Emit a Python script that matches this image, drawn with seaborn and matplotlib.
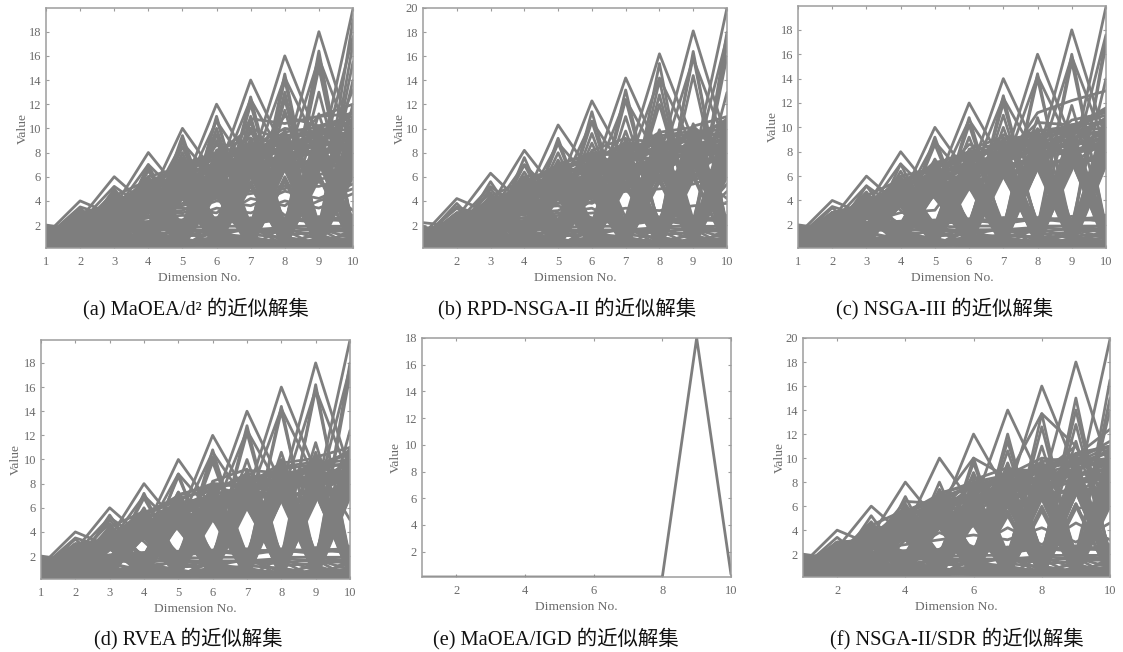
import matplotlib
matplotlib.use("Agg")
import matplotlib.pyplot as plt
import pandas as pd
import seaborn as sns

sns.set_style("white")
plt.rcParams['font.family'] = ['Liberation Serif', 'Noto Sans CJK SC']

DIMS = [1, 2, 3, 4, 5, 6, 7, 8, 9, 10]

BODY = [
 [1.9,0.3,2.6,0.4,5.0,0.5,6.2,0.4,7.2,0.5],
 [0.2,2.8,0.3,4.2,0.4,5.6,0.5,7.4,0.6,8.2],
 [1.2,0.6,3.4,0.7,5.8,0.8,7.0,0.9,8.2,0.3],
 [0.6,2.2,0.7,3.6,0.8,6.4,0.3,6.8,0.4,9.6],
 [1.6,0.9,4.0,1.0,6.4,0.3,8.0,0.3,9.2,0.8],
 [0.9,1.8,1.0,5.0,0.3,7.0,1.0,8.2,1.0,7.4],
 [0.3,0.4,2.9,0.3,4.6,1.0,6.6,1.2,7.8,1.2],
 [1.0,2.5,0.4,4.6,1.2,5.2,1.3,9.0,1.3,10.4],
 [0.8,1.0,3.8,1.2,5.4,1.3,7.6,1.5,8.8,1.5],
 [1.7,2.0,1.2,3.9,1.4,6.0,1.5,7.0,1.6,8.8],
 [0.4,0.7,2.7,1.4,6.8,1.6,8.6,1.7,9.8,1.8],
 [1.1,2.4,1.4,5.2,1.6,7.6,1.8,9.6,1.8,7.8],
 [0.5,1.7,2.6,3.6,4.6,5.2,6.2,6.8,7.4,7.2],
 [0.8,2.9,3.2,4.4,5.6,6.6,7.4,8.2,8.6,9.2],
 [1.0,2.2,3.2,4.8,5.0,6.2,6.8,7.6,8.0,8.4],
 [0.7,2.6,3.4,5.4,6.6,7.8,7.0,9.2,9.6,10.0],
 [1.3,1.9,3.0,3.8,6.0,5.6,8.2,7.2,10.2,7.6],
 [0.3,0.3,0.4,0.4,0.3,0.5,0.4,0.5,0.4,0.3],
 [1.5,0.5,0.6,0.9,0.6,0.4,0.7,0.3,0.7,0.6],
 [0.6,0.8,0.3,0.6,1.1,1.2,0.3,0.8,0.3,1.0],
 [1.0,0.3,1.0,0.3,0.4,0.8,0.9,0.6,1.2,0.4],
 [0.2,1.0,0.8,1.1,0.9,0.3,1.2,1.0,0.5,1.4],
 [0.4,0.5,3.1,4.0,0.6,0.7,6.4,7.8,0.8,0.9],
 [1.6,0.7,0.8,4.4,5.2,0.9,1.0,8.6,8.4,1.1],
 [0.9,2.1,2.8,0.8,1.0,5.8,7.2,1.2,1.4,9.0],
 [0.3,2.7,0.5,0.7,5.8,6.8,0.6,0.7,9.0,10.8],
 [1.2,0.9,3.5,5.0,0.5,0.6,7.8,9.4,0.5,0.7],
 [0.7,0.4,0.9,3.7,6.2,0.4,0.8,6.6,7.6,0.5],
 [1.8,1.2,4.4,0.5,0.7,7.2,8.8,0.4,0.6,8.0],
 [0.5,2.3,1.1,4.0,4.8,1.1,1.1,7.0,10.0,0.6],
 [1.3,0.6,3.3,1.3,0.9,6.5,6.0,1.4,9.4,1.3],
 [0.2,0.2,0.2,0.2,0.2,0.2,0.2,0.2,0.2,0.2],
 [0.8,1.4,1.6,1.5,1.7,1.5,1.6,1.8,1.6,1.7],
 [0.4,1.8,0.5,3.6,4.3,0.3,6.0,6.6,0.3,7.0],
 [1.1,0.3,2.6,3.9,0.3,5.0,6.4,0.3,7.0,7.5],
 [1.7,2.0,2.9,0.3,4.7,5.4,0.3,7.0,7.4,0.3],
 [0.6,2.2,0.6,4.2,5.1,0.4,6.8,7.4,0.4,8.0],
 [1.3,0.5,3.2,4.5,0.4,5.8,7.2,0.4,7.8,8.5],
 [0.3,2.4,3.0,0.5,5.5,6.2,0.4,7.8,8.2,0.4],
 [0.9,2.6,0.8,4.8,5.9,0.5,7.6,8.2,0.5,9.0],
 [0.8,0.7,3.8,5.1,0.5,6.6,8.0,0.5,8.6,9.5],
 [0.5,2.8,3.2,0.7,6.3,7.0,0.5,8.6,9.0,0.5],
 [0.5,3.0,1.0,5.4,6.7,0.6,8.4,9.0,0.6,10.0],
 [1.0,0.9,4.4,5.7,0.6,7.4,8.8,0.6,9.4,10.5],
 [1.4,1.9,4.7,0.9,7.1,7.8,0.6,9.4,9.8,0.6],
 [0.2,2.1,1.2,6.0,0.7,8.2,9.2,0.7,10.2,11.0],
 [1.4,0.4,2.8,1.1,4.5,0.7,6.2,0.7,7.2,0.7],
 [0.7,0.6,1.1,3.7,0.8,5.2,0.7,6.8,0.7,7.2],
 [1.6,1.3,3.0,1.3,5.3,0.8,6.6,0.8,7.6,0.8],
 [0.9,2.3,1.3,4.0,0.9,5.6,0.8,7.2,0.8,7.8],
 [0.4,1.1,3.4,1.5,5.7,0.9,7.0,0.9,8.0,0.9],
 [1.2,2.5,1.5,4.3,1.0,6.0,0.9,7.6,0.9,8.3],
 [1.9,0.8,3.6,1.6,6.1,1.0,7.4,1.0,8.4,1.0],
 [0.6,2.7,1.6,4.6,1.1,6.4,1.0,8.0,1.0,8.7],
 [1.1,1.5,3.9,0.2,6.5,1.1,7.8,1.1,8.8,1.1],
 [0.3,2.9,1.7,4.9,1.2,6.8,1.1,8.4,1.1,9.2],
 [1.5,1.6,4.2,0.6,6.9,1.2,8.2,1.2,9.2,1.2],
 [0.8,2.0,0.2,5.2,1.3,7.2,1.2,8.8,1.2,9.7],
 [1.7,0.2,4.5,1.0,7.3,1.3,8.6,1.3,9.6,1.3],
 [0.5,2.2,0.4,5.5,1.4,7.6,1.3,9.2,1.3,10.2],
 [1.3,1.7,2.7,4.1,5.0,5.3,6.1,6.9,7.3,7.7],
 [0.7,1.9,3.1,3.8,4.4,6.3,6.5,7.5,8.0,8.6],
 [1.3,2.3,3.3,4.7,5.2,5.5,7.1,8.3,8.5,9.1],
 [1.0,2.7,3.3,4.4,6.0,7.1,7.7,8.5,9.1,9.8],
 [0.4,2.5,3.4,5.3,5.6,6.1,8.1,7.1,8.9,8.1],
 [0.9,2.9,3.1,5.0,6.4,6.9,7.3,9.1,7.7,9.4],
 [0.9,2.1,3.4,5.6,6.8,7.5,8.5,8.7,9.5,10.6],
 [0.6,3.0,3.2,5.4,7.0,8.0,7.9,9.7,10.1,7.3],
 [0.2,0.9,0.7,1.2,1.5,1.4,0.9,0.2,1.5,1.5],
 [1.2,0.4,1.4,0.8,1.7,0.2,1.4,1.4,1.7,0.2],
 [0.6,1.2,0.3,1.7,0.2,1.6,1.6,1.6,0.2,1.7],
 [1.7,1.4,1.9,1.4,1.9,1.8,0.2,1.9,1.9,1.9],
 [0.3,0.6,1.5,0.5,0.2,1.9,1.9,0.3,0.9,0.2],
 [1.0,1.7,3.6,0.4,1.0,1.7,6.3,7.7,1.9,1.6],
 [0.5,2.6,0.9,0.2,4.9,5.7,1.5,1.6,8.1,8.9],
 [1.5,0.3,1.3,3.8,6.0,1.2,1.7,6.7,9.3,1.4],
 [0.8,1.0,3.0,4.6,1.6,1.5,6.9,9.3,1.7,0.9],
 [1.2,2.4,3.2,1.8,1.8,5.9,7.5,1.8,0.8,9.9],
 [0.4,2.8,1.8,1.9,5.4,7.3,2.0,0.6,7.5,10.2],
 [1.1,1.3,2.0,3.5,6.6,1.8,0.4,8.9,8.3,1.9],
 [0.7,0.1,2.5,5.9,0.1,0.9,8.3,8.1,0.1,6.9],
 [1.4,2.0,0.1,4.2,4.8,0.1,0.1,7.3,9.7,0.1],
 [0.2,2.2,3.4,0.1,5.8,6.5,7.0,0.1,7.1,8.8],
 [1.3,2.6,1.9,3.9,6.2,5.1,0.2,6.7,10.0,7.9],
 [0.9,0.2,3.3,5.5,1.9,6.1,8.7,1.5,8.7,1.8],
 [1.6,1.0,0.6,4.4,5.0,1.7,7.4,9.5,1.4,10.9],
 [0.3,1.8,3.0,1.9,5.6,7.7,0.5,7.9,9.9,9.3],
 [0.8,2.9,0.9,4.9,0.5,7.9,7.8,1.7,7.9,1.6],
 [0.6,2.4,2.9,3.7,6.7,1.9,9.1,8.9,0.7,8.2],
 [1.2,1.6,3.5,5.8,1.1,6.7,6.3,1.9,9.5,9.6],
 [0.4,2.7,3.3,1.2,6.1,0.6,8.9,7.7,8.8,0.8],
 [1.0,0.5,2.7,3.5,4.6,5.0,1.8,9.9,1.6,10.4],
 [0.7,3.0,3.2,5.0,1.3,8.1,6.0,0.8,10.0,0.3],
]
LOWFILL = [
 [1.0,1.5,1.8,2.2,2.4,2.3,2.5,2.4,2.5,2.6],
 [0.7,1.6,2.1,2.3,2.2,2.5,2.3,2.6,2.4,2.4],
 [1.2,1.7,1.9,2.0,2.3,2.1,2.6,2.2,2.7,2.2],
 [0.3,1.2,1.7,2.1,2.0,2.4,2.1,2.5,2.2,2.8],
]
MIDFILL = [
 [0.5,1.1,2.2,0.2,5.0,0.2,5.6,0.2,6.2,0.2],
 [0.6,0.2,2.4,3.4,0.2,4.8,0.2,6.0,0.2,6.6],
 [0.9,0.2,2.1,0.1,4.4,0.1,5.4,0.1,6.0,0.1],
 [0.4,1.3,0.2,3.2,0.1,4.6,0.1,5.8,0.1,6.4],
 [1.1,0.1,2.3,0.2,4.2,0.2,5.2,0.2,6.2,0.1],
 [0.6,1.4,0.1,3.3,0.2,4.8,0.2,5.6,0.1,6.0],
 [0.8,1.0,1.6,0.2,2.4,4.4,0.1,0.2,5.8,6.2],
]

PEAKS = [
 [2.0,1.6,1.0,0.8,0.6,0.6,0.5,0.5,0.5,0.5],
 [1.2,4.0,2.8,0.6,0.4,0.3,0.3,0.3,0.3,0.3],
 [0.4,2.5,6.0,3.5,0.6,0.4,0.4,0.3,0.3,0.3],
 [0.4,0.6,3.5,8.0,4.5,0.8,0.4,0.4,0.3,0.3],
 [0.3,0.5,0.8,4.0,10.0,6.0,1.0,0.5,0.4,0.4],
 [0.3,0.4,0.6,1.0,5.0,12.0,7.0,1.0,0.5,0.4],
 [0.3,0.3,0.4,0.6,1.0,6.0,14.0,8.0,1.0,0.5],
 [0.3,0.3,0.3,0.4,0.6,1.0,7.0,16.0,9.0,1.0],
 [0.3,0.3,0.3,0.3,0.4,0.6,1.0,7.5,18.0,9.0],
 [0.3,0.3,0.3,0.3,0.3,0.4,0.6,0.5,7.0,19.9],
]
PEAKS2 = [
 [1.0,3.5,2.6,0.5,0.4,0.3,0.3,0.3,0.3,0.3],
 [0.4,2.2,5.2,3.2,0.5,0.4,0.4,0.3,0.3,0.3],
 [0.4,0.6,3.1,7.0,4.2,0.7,0.4,0.4,0.3,0.3],
 [0.3,0.5,0.8,3.6,8.8,5.6,0.9,0.5,0.4,0.4],
 [0.3,0.4,0.6,0.9,4.6,10.6,6.4,0.9,0.5,0.4],
 [0.3,0.3,0.4,0.6,0.9,5.4,12.4,7.4,0.9,0.5],
 [0.3,0.3,0.3,0.4,0.6,0.9,6.4,14.2,8.4,0.9],
 [0.3,0.3,0.3,0.3,0.4,0.6,0.9,6.8,15.8,8.4],
 [0.3,0.3,0.3,0.3,0.3,0.4,0.6,0.5,6.5,17.6],
]

PANEL_A = [
 [0.8,3.4,0.9,7.0,1.2,10.8,1.4,14.5,1.0,17.0],
 [1.0,3.0,1.5,6.5,1.8,10.0,1.6,13.0,1.5,15.5],
 [0.6,2.6,1.8,5.8,2.0,9.5,2.0,11.5,2.0,14.0],
 [1.6,1.0,5.0,1.4,9.0,1.4,12.6,1.4,16.0,1.5],
 [1.3,1.4,4.6,1.8,8.5,1.8,12.0,1.8,15.3,1.8],
 [0.9,1.2,4.0,2.0,7.6,2.0,10.6,2.0,13.0,2.0],
 [0.5,1.6,3.4,2.1,6.8,2.2,9.2,2.2,11.2,2.2],
 [1.4,2.6,3.6,5.2,6.2,7.0,8.4,10.0,9.6,11.4],
 [0.7,2.2,4.2,4.6,7.4,6.4,9.6,8.2,11.0,12.0],
 [0.9,3.0,3.6,5.6,5.6,8.6,7.6,11.0,10.2,10.4],
 [1.0,2.8,3.2,6.0,6.8,8.0,10.0,9.0,8.4,11.4],
 [0.6,1.9,3.0,4.0,5.0,6.0,10.8,10.4,11.0,11.2],
 [1.2,2.4,2.2,3.0,3.2,4.6,5.4,8.0,6.4,13.2],
 [0.4,1.5,2.4,2.6,3.8,4.2,4.6,5.0,6.2,6.4],
 [0.6,2.0,1.8,2.8,2.4,3.4,3.0,4.0,3.4,4.6],
 [1.2,1.6,2.2,3.0,3.0,4.0,3.6,4.8,4.2,5.4],
 [0.8,1.9,2.6,3.2,3.6,4.4,4.8,5.2,5.2,6.0],
 [1.0,1.2,2.0,2.6,2.8,2.6,4.2,3.6,5.6,3.2],
 [0.4,2.4,2.4,3.4,3.4,3.0,5.2,2.8,4.0,5.0],
 [0.9,3.2,1.1,6.8,1.1,11.0,1.3,14.0,1.2,19.0],
 [1.1,2.8,1.3,6.0,1.5,9.0,1.8,12.4,1.6,12.0],
 [1.5,0.8,4.8,1.2,9.4,1.2,11.0,1.2,16.4,1.4],
 [1.2,1.1,4.2,1.6,8.0,1.6,10.0,1.6,15.0,1.6],
]
PANEL_B = [
 [2.2,1.9,1.0,0.8,0.6,0.6,0.5,0.5,0.5,0.5],
 [1.2,4.2,3.0,0.6,0.4,0.3,0.3,0.3,0.3,0.3],
 [0.4,2.6,6.3,3.6,0.6,0.4,0.4,0.3,0.3,0.3],
 [0.4,0.6,3.6,8.2,4.6,0.8,0.4,0.4,0.3,0.3],
 [0.3,0.5,0.8,4.1,10.3,6.2,1.0,0.5,0.4,0.4],
 [0.3,0.4,0.6,1.0,5.1,12.3,7.2,1.0,0.5,0.4],
 [0.3,0.3,0.4,0.6,1.0,6.0,14.2,8.0,1.0,0.5],
 [0.3,0.3,0.3,0.4,0.6,1.0,7.0,16.2,9.0,1.0],
 [0.3,0.3,0.3,0.3,0.4,0.6,1.0,7.5,18.1,9.0],
 [0.3,0.3,0.3,0.3,0.3,0.4,0.6,0.5,7.0,20.0],
 [0.8,3.8,0.9,7.6,1.2,11.4,1.4,15.4,1.0,18.0],
 [1.0,3.4,1.5,7.0,1.8,10.6,1.6,14.0,1.5,17.0],
 [0.6,3.0,1.8,6.4,2.0,9.6,2.0,12.8,2.0,16.0],
 [0.7,2.6,2.0,6.0,2.4,8.8,2.6,12.0,2.4,13.0],
 [1.6,1.0,5.6,1.4,9.2,1.4,13.2,1.4,16.4,1.5],
 [1.3,1.4,5.0,1.8,8.8,1.8,12.4,1.8,16.0,1.8],
 [0.9,1.2,4.2,2.0,8.0,2.0,11.0,2.0,14.4,2.0],
 [0.5,1.6,3.8,2.1,7.4,2.2,9.8,2.2,10.4,2.2],
 [1.4,2.6,3.6,5.2,6.2,7.0,7.4,7.6,7.8,8.2],
 [0.7,2.2,4.2,4.6,6.8,6.4,7.8,8.0,8.4,8.6],
 [0.9,3.0,3.4,5.6,5.6,6.8,6.4,7.2,8.0,7.8],
 [1.0,2.8,3.2,6.0,6.4,7.6,7.0,6.8,7.4,9.0],
 [0.6,1.9,3.0,4.0,5.0,6.0,5.8,7.4,7.0,10.8],
 [1.2,2.4,2.2,3.0,3.2,4.6,5.4,6.4,6.4,8.0],
 [0.4,1.5,2.4,2.6,3.8,4.2,4.8,5.0,5.4,6.4],
 [1.5,2.0,2.8,3.4,4.4,5.0,5.2,5.8,6.0,7.0],
 [0.9,1.2,2.0,2.4,2.8,3.0,3.4,3.2,3.6,3.8],
 [0.6,1.8,2.2,2.6,3.0,3.4,2.0,2.4,2.0,4.8],
 [1.0,2.2,2.6,3.0,2.4,4.0,4.9,2.6,6.4,4.2],
 [0.8,1.4,2.9,3.4,3.6,2.6,1.9,6.2,2.2,5.4],
 [1.4,2.6,3.2,2.8,4.2,3.8,5.2,2.4,6.2,6.2],
 [0.5,1.9,1.9,3.6,3.8,4.4,5.6,5.9,5.9,7.0],
]
PANEL_C = [
 [0.8,3.4,0.9,7.0,1.2,10.8,1.4,14.4,1.0,17.4],
 [1.0,3.0,1.5,6.4,1.8,10.2,1.6,14.0,1.5,16.8],
 [0.6,2.8,1.8,5.8,2.0,9.2,2.0,10.8,2.0,14.0],
 [1.6,1.0,5.2,1.4,9.2,1.4,12.6,1.4,16.0,1.5],
 [1.3,1.4,4.6,1.8,8.6,1.8,12.0,1.8,15.4,1.8],
 [0.9,1.2,4.0,2.0,7.4,2.0,11.0,2.0,11.8,2.0],
 [0.5,1.6,3.4,2.1,6.8,2.2,10.0,2.2,9.0,2.2],
 [1.4,2.6,3.6,5.2,6.2,7.8,8.4,9.8,9.6,11.4],
 [0.7,2.2,4.2,4.6,7.2,6.4,9.4,8.2,10.6,11.2],
 [0.9,3.0,3.6,5.6,5.6,8.6,7.6,10.4,10.2,10.4],
 [1.0,2.8,3.2,6.0,6.6,8.0,8.8,9.0,9.8,11.4],
 [0.6,1.9,3.0,4.0,5.0,6.0,7.0,11.2,12.2,13.0],
 [1.2,2.4,2.2,3.0,3.2,7.0,9.0,9.4,10.0,11.6],
 [0.6,0.5,0.6,0.5,0.6,0.6,0.7,0.6,0.7,0.6],
 [0.8,0.6,0.5,0.7,0.5,0.7,1.1,1.0,1.1,1.2],
]
PANEL_D = [
 [0.8,3.4,0.9,7.2,1.2,10.8,1.4,14.4,1.0,18.0],
 [1.0,3.0,1.5,6.8,1.8,10.2,1.6,14.0,1.5,17.0],
 [0.6,2.6,1.8,5.5,2.0,9.8,2.0,10.6,2.0,12.4],
 [0.5,2.4,1.6,5.2,2.2,7.8,2.2,10.0,2.2,11.0],
 [1.6,1.0,5.4,1.4,8.8,1.4,12.8,1.4,16.2,1.5],
 [1.3,1.4,5.0,1.8,8.6,1.8,12.2,1.8,15.8,1.8],
 [0.9,1.2,4.2,2.0,7.3,2.0,10.0,2.0,11.4,2.0],
 [0.5,1.6,3.6,2.1,6.8,2.2,9.0,2.2,10.6,2.2],
 [1.4,2.6,3.4,4.4,5.6,7.2,7.4,8.0,8.4,8.4],
 [0.7,2.2,3.2,4.0,6.0,6.4,7.6,8.6,9.4,8.6],
 [0.9,3.0,3.0,5.4,5.4,6.6,7.0,7.8,8.0,8.2],
 [1.0,2.8,2.8,4.6,4.8,5.8,7.8,8.2,9.8,5.0],
 [0.6,0.5,0.6,0.5,0.6,0.6,0.7,0.6,0.6,0.6],
]
PANEL_F = [
 [0.9,3.4,1.2,6.8,1.2,10.0,1.4,13.7,1.0,16.5],
 [1.0,3.0,1.5,6.2,1.8,9.6,1.6,12.6,1.5,15.0],
 [0.6,2.8,1.8,5.8,2.0,8.8,2.0,11.0,2.0,14.0],
 [1.6,1.0,5.2,1.4,8.0,1.4,12.0,1.4,15.0,1.5],
 [1.3,1.4,4.6,1.8,7.4,1.8,11.4,1.8,14.0,1.8],
 [0.9,1.2,4.0,2.0,6.8,2.0,10.6,2.0,12.8,2.0],
 [0.5,1.6,3.4,2.1,6.2,2.2,9.6,2.2,11.4,2.2],
 [1.4,2.6,3.6,5.2,6.2,8.0,8.6,10.0,9.6,11.0],
 [0.7,2.2,4.0,4.6,6.4,6.4,9.0,8.6,10.4,11.0],
 [0.9,2.8,3.4,5.6,5.6,8.4,7.6,9.2,10.2,12.4],
 [1.0,2.6,3.2,5.0,6.6,7.6,8.0,9.0,9.8,11.4],
 [0.6,1.9,3.0,6.4,6.2,10.0,8.4,13.7,11.0,6.0],
 [1.2,2.4,3.4,4.2,5.8,7.0,8.6,8.8,11.0,5.8],
 [0.8,2.0,2.8,3.8,4.6,6.0,7.0,8.0,9.0,10.0],
 [0.6,2.0,2.4,2.8,3.2,3.6,3.2,4.2,3.0,4.6],
 [1.1,1.6,2.8,2.2,3.8,2.6,4.2,2.8,4.6,3.2],
]
PANEL_E = [[0.1, 0.1, 0.1, 0.1, 0.1, 0.1, 0.1, 0.1, 18.0, 0.3]]

CAPTIONS = ["(a) MaOEA/d² 的近似解集", "(b) RPD-NSGA-II 的近似解集", "(c) NSGA-III 的近似解集",
            "(d) RVEA 的近似解集", "(e) MaOEA/IGD 的近似解集", "(f) NSGA-II/SDR 的近似解集"]
X_TICKS = [DIMS, DIMS[1:], DIMS, DIMS, DIMS[1::2], DIMS[1::2]]
Y_TOPS = [19.96, 20.0, 19.96, 19.9, 18.0, 20.0]
Y_TICKS = [[2,4,6,8,10,12,14,16,18], [2,4,6,8,10,12,14,16,18,20], [2,4,6,8,10,12,14,16,18],
           [2,4,6,8,10,12,14,16,18], [2,4,6,8,10,12,14,16,18], [2,4,6,8,10,12,14,16,18,20]]
ROWS = [BODY + LOWFILL + MIDFILL + PEAKS + PEAKS2 + PANEL_A,
        BODY + LOWFILL + MIDFILL + PEAKS2 + PANEL_B,
        BODY + LOWFILL + PEAKS + PEAKS2 + PANEL_C,
        BODY + LOWFILL + PEAKS + PEAKS2 + PANEL_D,
        PANEL_E,
        BODY + LOWFILL + MIDFILL + PEAKS + PANEL_F]

W, H = 1123, 652
BOXES = [(46,353,8,248), (423,727,8,248), (798,1106,6,248),
         (41,350,340,579), (422,731,338,577), (803,1110,338,577)]
YLABX = [29, 406, 779, 22, 402, 786]
XLABY = [272, 272, 272, 603, 601, 601]
CAPXY = [(196,309), (567,309), (945,309), (188,639), (556,639), (957,639)]
LINE = "#7e7e7e"; FRAME = "#9c9c9c"; TXT = "#6a6a6a"

fig = plt.figure(figsize=(W/100, H/100), dpi=100, facecolor="white")
for i in range(6):
    l, r, t, b = BOXES[i]
    ax = fig.add_axes([l/W, 1-b/H, (r-l)/W, (b-t)/H])
    df = pd.DataFrame(
        [(n, d, v) for n, row in enumerate(ROWS[i]) for d, v in zip(DIMS, row)],
        columns=["sol", "dim", "value"])
    sns.lineplot(data=df, x="dim", y="value", units="sol", estimator=None,
                 color=LINE, lw=2.0, ax=ax, legend=False)
    ax.set_xlim(1, 10)
    ax.set_ylim(0.1, Y_TOPS[i])
    ax.set_xticks(X_TICKS[i])
    ax.set_yticks(Y_TICKS[i])
    ax.tick_params(direction="in", length=2.5, width=0.8, color=FRAME, labelcolor=TXT,
                   labelsize=9, top=True, right=True, bottom=True, left=True)
    ax.tick_params(axis="x", pad=5.5)
    ax.tick_params(axis="y", pad=3.5)
    for s in ax.spines.values():
        s.set_color(FRAME); s.set_linewidth(1.1); s.set_visible(True)
    ax.set_xlabel("Dimension No.", fontsize=9.7, color=TXT)
    ax.set_ylabel("Value", fontsize=9.7, color=TXT)
    ax.xaxis.set_label_coords((l+r)/2/W, 1-XLABY[i]/H, transform=fig.transFigure)
    ax.yaxis.set_label_coords(YLABX[i]/W, 1-(t+b)/2/H, transform=fig.transFigure)
    fig.text(CAPXY[i][0]/W, 1-CAPXY[i][1]/H, CAPTIONS[i], ha="center", va="center",
             fontsize=14.7, color="#111111")
fig.savefig("out.png", dpi=100)
